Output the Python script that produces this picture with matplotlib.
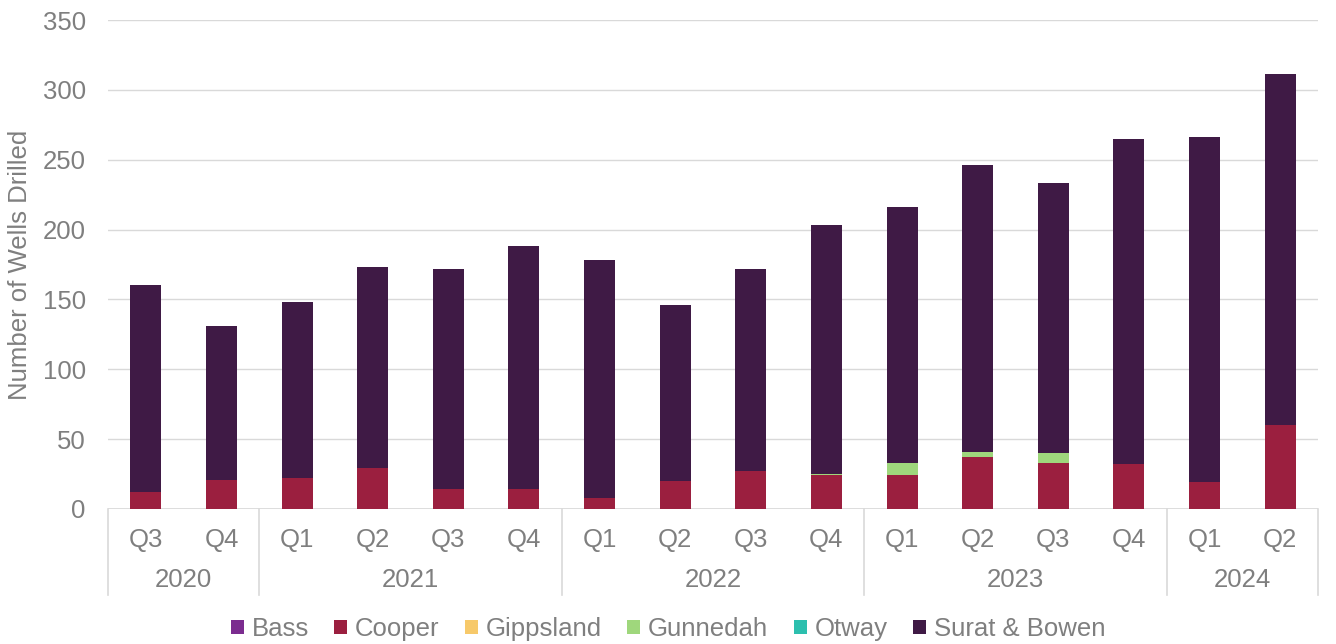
import matplotlib
matplotlib.use("Agg")
import matplotlib.pyplot as plt
from matplotlib.patches import Patch
import numpy as np

plt.rcParams['font.family'] = ['Liberation Sans', 'DejaVu Sans']

quarters = ["Q3", "Q4", "Q1", "Q2", "Q3", "Q4", "Q1", "Q2", "Q3", "Q4",
            "Q1", "Q2", "Q3", "Q4", "Q1", "Q2"]
years = ["2020", "2021", "2022", "2023", "2024"]
year_counts = [2, 4, 4, 4, 2]

totals = [160, 131, 148, 173, 172, 188, 178, 146, 172, 203, 216, 246, 233, 265, 266, 311]
bass = [0] * 16
cooper = [12, 21, 22, 29, 14, 14, 8, 20, 27, 24, 24, 37, 33, 32, 19, 60]
gippsland = [0] * 16
gunnedah = [0, 0, 0, 0, 0, 0, 0, 0, 0, 1, 9, 4, 7, 0, 0, 0]
otway = [0] * 16
surat_bowen = [t - c - g for t, c, g in zip(totals, cooper, gunnedah)]

series = [
    ("Bass", bass, "#7B2C8F"),
    ("Cooper", cooper, "#9B1F3F"),
    ("Gippsland", gippsland, "#F7C96A"),
    ("Gunnedah", gunnedah, "#9FD77C"),
    ("Otway", otway, "#2CBFAE"),
    ("Surat & Bowen", surat_bowen, "#3F1A45"),
]

text_color = "#7F7F7F"
grid_color = "#D9D9D9"
fs = 18.5

W, H = 1336, 644
fig = plt.figure(figsize=(W / 100, H / 100), dpi=100)
ax = fig.add_axes([108 / W, (H - 509) / H, 1210 / W, 489 / H])

x = np.arange(len(quarters))
bottom = np.zeros(len(quarters))
for name, vals, col in series:
    vals = np.array(vals, dtype=float)
    ax.bar(x, vals, width=0.41, bottom=bottom, color=col, zorder=3)
    bottom += vals

ax.set_xlim(-0.5, len(quarters) - 0.5)
ax.set_ylim(0, 350)
ax.set_yticks(np.arange(0, 351, 50))
ax.tick_params(axis='y', length=0, labelsize=fs, labelcolor=text_color, pad=16)
ax.set_xticks([])
ax.grid(axis='y', color=grid_color, linewidth=1.0, zorder=0)
for s in ax.spines.values():
    s.set_visible(False)
ax.axhline(0, color=grid_color, linewidth=1.2, zorder=1)

ax.set_ylabel("Number of Wells Drilled", fontsize=fs, color=text_color, labelpad=8)

trans = ax.get_xaxis_transform()
for xi, q in zip(x, quarters):
    ax.text(xi, -31 / 489, q, transform=trans, ha='center', va='center',
            fontsize=fs, color=text_color)

sep_bottom = -86 / 489
start = -0.5
bounds = [start]
for yr, n in zip(years, year_counts):
    end = start + n
    ax.text((start + end) / 2, -71 / 489, yr, transform=trans, ha='center',
            va='center', fontsize=fs, color=text_color)
    bounds.append(end)
    start = end
for b in bounds:
    ax.plot([b, b], [0, sep_bottom], transform=trans, color=grid_color,
            linewidth=1.2, clip_on=False)

handles = [Patch(facecolor=c, edgecolor='none', label=n) for n, _, c in series]
fig.legend(handles=handles, loc='center', bbox_to_anchor=(668 / W, 1 - 629 / H),
           ncol=6, frameon=False, fontsize=fs, handlelength=0.5, handleheight=0.5,
           handletextpad=0.3, columnspacing=1.0, labelcolor=text_color)

fig.savefig("out.png", dpi=100)
